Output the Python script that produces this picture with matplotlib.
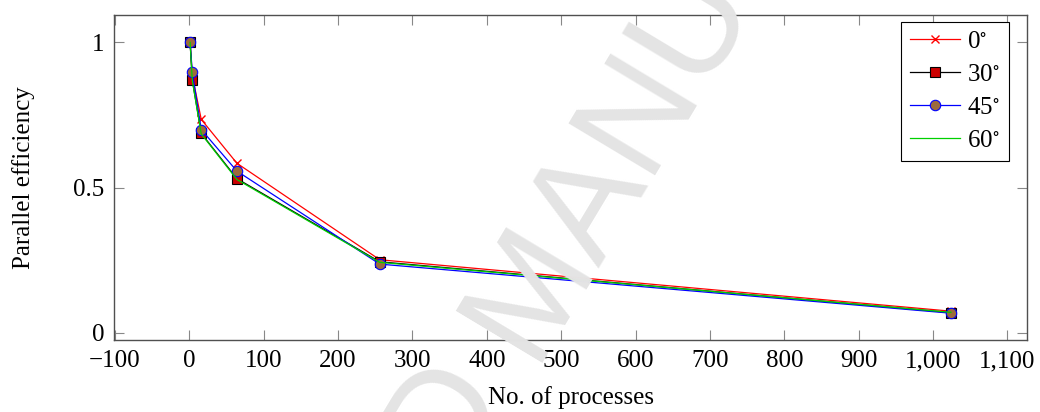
import matplotlib
matplotlib.use("Agg")
import matplotlib.pyplot as plt
from matplotlib.ticker import FixedLocator, FuncFormatter

# ---- data ----
processes = [1, 4, 16, 64, 256, 1024]
eff_0 = [1.0, 0.885, 0.735, 0.584, 0.252, 0.075]
eff_30 = [1.0, 0.870, 0.687, 0.531, 0.245, 0.070]
eff_45 = [1.0, 0.897, 0.700, 0.557, 0.237, 0.068]
eff_60 = [1.0, 0.868, 0.685, 0.528, 0.243, 0.071]
labels = [r"0$^{\circ}$", r"30$^{\circ}$", r"45$^{\circ}$", r"60$^{\circ}$"]
x_ticks = list(range(-100, 1101, 100))
y_ticks = [0, 0.5, 1]

plt.rcParams["font.family"] = ["Liberation Serif", "DejaVu Serif"]
plt.rcParams["mathtext.fontset"] = "stix"
FS = 18

W, H = 1040, 412
fig = plt.figure(figsize=(W / 100, H / 100), dpi=100)
L, R, T, B = 114, 1027, 15.3, 340.3
ax = fig.add_axes([L / W, 1 - B / H, (R - L) / W, (B - T) / H])

lw = 0.9
ax.plot(processes, eff_0, color="#ff0000", lw=lw, marker="x", ms=6, mew=1.0,
        label=labels[0], zorder=3)
ax.plot(processes, eff_30, color="black", lw=lw, marker="s", ms=7.5,
        mfc="#cc0000", mec="black", mew=0.8, label=labels[1], zorder=4)
ax.plot(processes, eff_45, color="#0000ff", lw=lw, marker="o", ms=7.5,
        mfc="#9c6b3c", mec="#0000ff", mew=0.8, label=labels[2], zorder=5)
ax.plot(processes, eff_60, color="#00d000", lw=lw, label=labels[3], zorder=6)

span_x = processes[-1] - processes[0]
ax.set_xlim(processes[0] - 0.1 * span_x, processes[-1] + 0.1 * span_x)
ymin, ymax = min(eff_45), 1.0
ax.set_ylim(ymin - 0.1 * (ymax - ymin), ymax + 0.1 * (ymax - ymin))

ax.xaxis.set_major_locator(FixedLocator(x_ticks))
ax.yaxis.set_major_locator(FixedLocator(y_ticks))


def fmt_x(v, pos):
    s = f"{abs(int(round(v))):,}"
    return ("\u2212" + s) if v < 0 else s


def fmt_y(v, pos):
    return f"{v:g}"


ax.xaxis.set_major_formatter(FuncFormatter(fmt_x))
ax.yaxis.set_major_formatter(FuncFormatter(fmt_y))
ax.tick_params(axis="both", which="major", direction="in", length=7.5,
               width=0.8, color="#888888", labelsize=FS, pad=7,
               top=True, right=True)
for s in ax.spines.values():
    s.set_color("#505050")
    s.set_linewidth(1.0)

leg = ax.legend(loc="upper right", bbox_to_anchor=(0.98, 0.98),
                borderaxespad=0, fontsize=FS, frameon=True, fancybox=False,
                edgecolor="black", framealpha=1, handlelength=2.0,
                handletextpad=0.3, labelspacing=0.42, borderpad=0.35)
leg.get_frame().set_linewidth(0.8)

fig.text(571 / W, 1 - 398 / H, "No. of processes", ha="center", va="center",
         fontsize=FS)
fig.text(24 / W, 1 - 178 / H, "Parallel efficiency", ha="center",
         va="center", rotation=90, fontsize=FS)

# watermark
ang = 59
wm = dict(rotation=ang, rotation_mode="anchor", va="baseline",
          fontsize=105, color="#e4e4e4", family="Liberation Sans", zorder=10)
fig.text(531 / W, 1 - 362 / H, "MANUSCRIPT", ha="left", **wm)
fig.text(510 / W, 1 - 397 / H, "ACCEPTED", ha="right", **wm)

fig.savefig("out.png", dpi=100)
